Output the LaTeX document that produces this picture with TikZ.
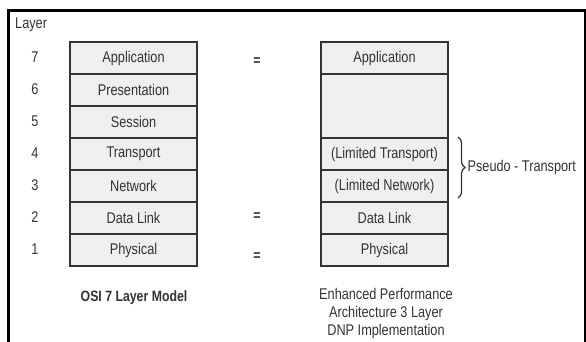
\documentclass[tikz,border=0pt]{standalone}
\usepackage{fontspec}
\setmainfont{Liberation Sans}[FakeStretch=0.82]
\usetikzlibrary{decorations.pathreplacing}
\definecolor{boxfill}{HTML}{EFEFEF}
\definecolor{boxline}{HTML}{333333}
\definecolor{txt}{HTML}{333333}
\tikzset{
  layerbox/.style={draw=boxline, line width=2pt, fill=boxfill, minimum width=127pt,
    minimum height=32pt, inner sep=0pt, anchor=north west, text=txt,
    font=\fontsize{15.5}{18}\selectfont},
  tallbox/.style={layerbox, minimum height=64pt},
  lbl/.style={text=txt, font=\fontsize{15.5}{18}\selectfont, inner sep=0pt},
  eqsign/.style={lbl, font=\bfseries\fontsize{15}{16}\selectfont},
  caption/.style={lbl, align=center, font=\fontsize{15.5}{18}\selectfont},
  frameline/.style={draw=black, line width=3pt}
}
\begin{document}
\begin{tikzpicture}[x=1pt, y=-1pt]
\useasboundingbox (0,0) rectangle (586,342);
% outer frame (open at the bottom)
\draw[frameline] (8.5,342) -- (8.5,10.5) -- (586,10.5);
\draw[draw=black, line width=2pt] (585,10.5) -- (585,342);

\node[lbl, anchor=west] (layerhdr) at (15,25) {Layer};

% OSI 7 layer stack
\node[layerbox] (osi7) at (69,41)  {Application};
\node[layerbox] (osi6) at (69,73)  {Presentation};
\node[layerbox] (osi5) at (69,105) {Session};
\node[layerbox] (osi4) at (69,137) {Transport};
\node[layerbox] (osi3) at (69,169) {Network};
\node[layerbox] (osi2) at (69,201) {Data Link};
\node[layerbox] (osi1) at (69,233) {Physical};

% layer numbers
\foreach \n/\y in {7/57,6/89,5/121,4/153,3/185,2/217,1/249}
  \node[lbl] (num\n) at (35,\y) {\n};

% EPA 3 layer stack
\node[layerbox] (epa7) at (320,41)  {Application};
\node[tallbox]  (epa65) at (320,73) {};
\node[layerbox] (epa4) at (320,137) {(Limited Transport)};
\node[layerbox] (epa3) at (320,169) {(Limited Network)};
\node[layerbox] (epa2) at (320,201) {Data Link};
\node[layerbox] (epa1) at (320,233) {Physical};

% equivalence marks
\node[eqsign] (eq7) at (257,62) {=};
\node[eqsign] (eq2) at (257,217) {=};
\node[eqsign] (eq1) at (257,257) {=};

% pseudo-transport brace
\coordinate (brtop) at (458,137);
\coordinate (brbot) at (458,198);
\draw[draw=boxline, line width=1.2pt, decorate,
      decoration={brace, amplitude=7pt}] (brtop) -- (brbot)
  node[midway, right=9pt, lbl] (pseudo) {Pseudo - Transport};

% captions
\node[caption, font=\bfseries\fontsize{15}{18}\selectfont] (osicap) at (134,298) {OSI 7 Layer Model};
\node[caption, anchor=north] (epacap) at (386,288)
  {Enhanced Performance\\Architecture 3 Layer\\DNP Implementation};
\end{tikzpicture}
\end{document}
